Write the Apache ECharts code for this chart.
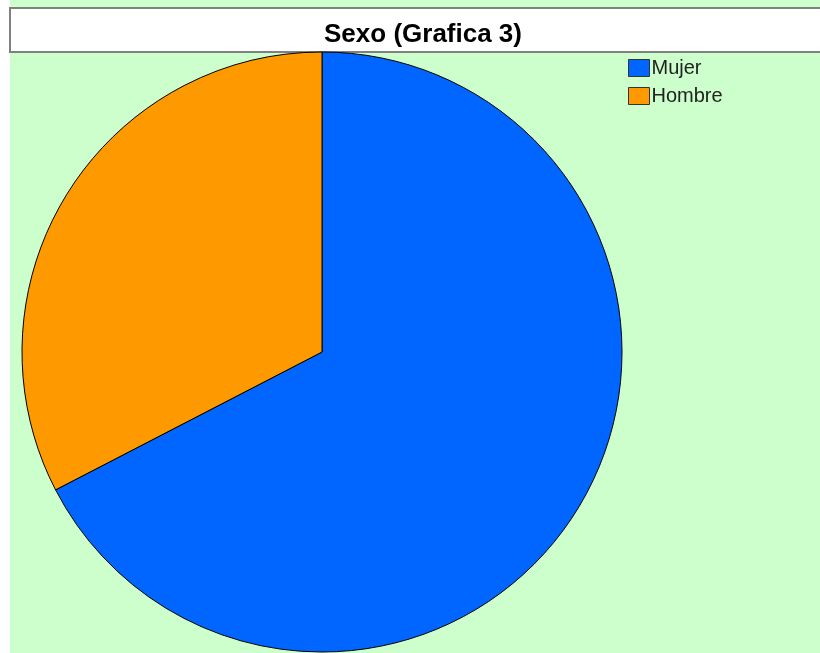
<!DOCTYPE html>
<html>
<head>
<meta charset="utf-8">
<script src="https://cdn.jsdelivr.net/npm/echarts@6/dist/echarts.min.js"></script>
<style>
  body { margin: 0; background: #fff; }
  #chart { width: 820px; height: 653px; }
</style>
</head>
<body>
<div id="chart"></div>
<script>
const categories = ['Mujer', 'Hombre'];
const values = [67.4, 32.6];
const colors = ['#0066ff', '#ff9900'];

const chart = echarts.init(document.getElementById('chart'), null, { renderer: 'canvas' });

const option = {
    backgroundColor: '#ffffff',
    animation: false,
    graphic: [
        // green plot background
        { type: 'rect', z: -10, shape: { x: 10, y: 0, width: 810, height: 653 }, style: { fill: '#ccffcc' } },
        // white title box
        { type: 'rect', z: -5, shape: { x: 10, y: 8, width: 812, height: 44 }, style: { fill: '#ffffff', stroke: '#808080', lineWidth: 2 } }
    ],
    title: {
        text: 'Sexo (Grafica 3)',
        left: 423,
        textAlign: 'center',
        top: 22,
        padding: 0,
        textStyle: { fontFamily: 'Liberation Sans, Arial', fontSize: 26, fontWeight: 'bold', color: '#000' }
    },
    legend: {
        orient: 'vertical',
        left: 628,
        top: 58,
        padding: 0,
        itemWidth: 21,
        itemHeight: 17,
        itemGap: 8,
        icon: 'rect',
        data: categories,
        textStyle: { fontFamily: 'Liberation Sans, Arial', fontSize: 20, lineHeight: 17, color: '#222', padding: [3, 0, 0, -3] },
        itemStyle: { borderColor: '#333', borderWidth: 1 }
    },
    series: [{
        type: 'pie',
        center: [322, 352],
        radius: 300,
        startAngle: 90,
        clockwise: true,
        label: { show: false },
        labelLine: { show: false },
        emphasis: { disabled: true },
        itemStyle: { borderColor: '#000', borderWidth: 1 },
        data: categories.map((c, i) => ({ name: c, value: values[i], itemStyle: { color: colors[i] } }))
    }]
};

chart.setOption(option);
</script>
</body>
</html>
